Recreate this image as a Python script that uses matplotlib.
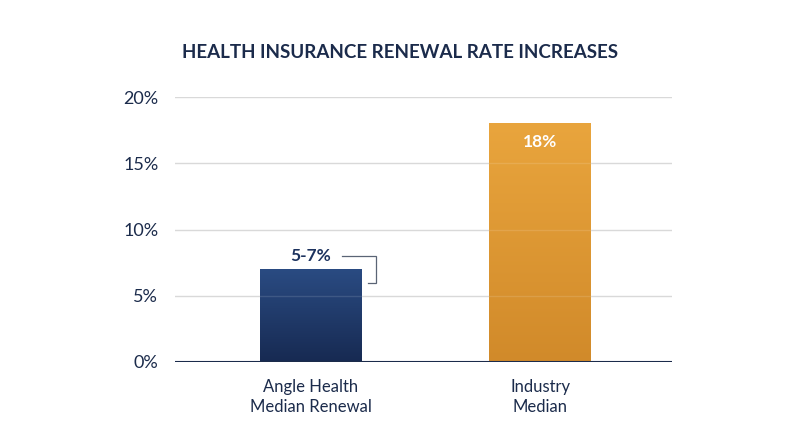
import numpy as np
import matplotlib.pyplot as plt
from matplotlib.colors import LinearSegmentedColormap

# dati
categorie = ["Angle Health\nMedian Renewal", "Industry\nMedian"]
valori = [7, 18]
etichette = ["5-7%", "18%"]
range_basso = 5
range_alto = 7
tick_y = [0, 5, 10, 15, 20]
tick_label_y = ["0%", "5%", "10%", "15%", "20%"]

navy = '#1b2b4b'
colori_top = ['#2a4b82', '#e9a53d']
colori_bottom = ['#172a52', '#d18a2a']

plt.rcParams['font.family'] = ['Lato', 'DejaVu Sans']

fig = plt.figure(figsize=(8, 4.47), dpi=100)
ax = fig.add_axes([175 / 800, 1 - 362 / 447, 497 / 800, 265 / 447])

x = np.arange(len(categorie))
larghezza = 0.445
ax.set_xlim(-0.594, 1.576)
ax.set_ylim(0, 20)

# griglia orizzontale
for t in tick_y[1:]:
    ax.axhline(t, color='#d9d9d9', lw=1, zorder=0)

# barre con sfumatura verticale
grad = np.linspace(1, 0, 256).reshape(-1, 1)
for i, v in enumerate(valori):
    cmap = LinearSegmentedColormap.from_list('c%d' % i, [colori_bottom[i], colori_top[i]])
    ax.imshow(grad, cmap=cmap, aspect='auto', zorder=2,
              extent=[x[i] - larghezza / 2, x[i] + larghezza / 2, 0, v])
    # linee della griglia che si intravedono sulla barra
    for t in tick_y[1:]:
        if t < v:
            ax.plot([x[i] - larghezza / 2, x[i] + larghezza / 2], [t, t],
                    color='white', alpha=0.12, lw=1, zorder=3)

# linea di base
ax.axhline(0, color=navy, lw=1.5, zorder=4)

# etichette dei valori
y_lab = valori[0] + 1.0
ax.text(x[0], y_lab, etichette[0], ha='center', va='center', fontsize=12.5,
        fontweight='bold', color='#1c325e', zorder=5)
ax.text(x[1], valori[1] - 1.4, etichette[1], ha='center', va='center', fontsize=12.5,
        fontweight='bold', color='white', zorder=5)

# parentesi per l'intervallo 5-7%
medio = (range_basso + range_alto) / 2
xb0 = x[0] + 0.135
xb1 = x[0] + 0.284
xb2 = x[0] + 0.249
ax.plot([xb0, xb1, xb1, xb2], [y_lab, y_lab, medio, medio],
        color='#5a6475', lw=0.9, zorder=5, solid_joinstyle='miter')

ax.set_xticks(x)
ax.set_xticklabels(categorie, fontsize=12, color=navy, linespacing=1.3)
ax.set_yticks(tick_y)
ax.set_yticklabels(tick_label_y, fontsize=13, color=navy)
ax.tick_params(length=0)
ax.tick_params(axis='x', pad=12)
ax.tick_params(axis='y', pad=12)
for s in ax.spines.values():
    s.set_visible(False)

fig.text(400 / 800, 1 - 52 / 447, "HEALTH INSURANCE RENEWAL RATE INCREASES",
         ha='center', va='center', fontsize=13.5, fontweight='bold', color=navy)

fig.savefig('out.png', dpi=100, facecolor='white')
